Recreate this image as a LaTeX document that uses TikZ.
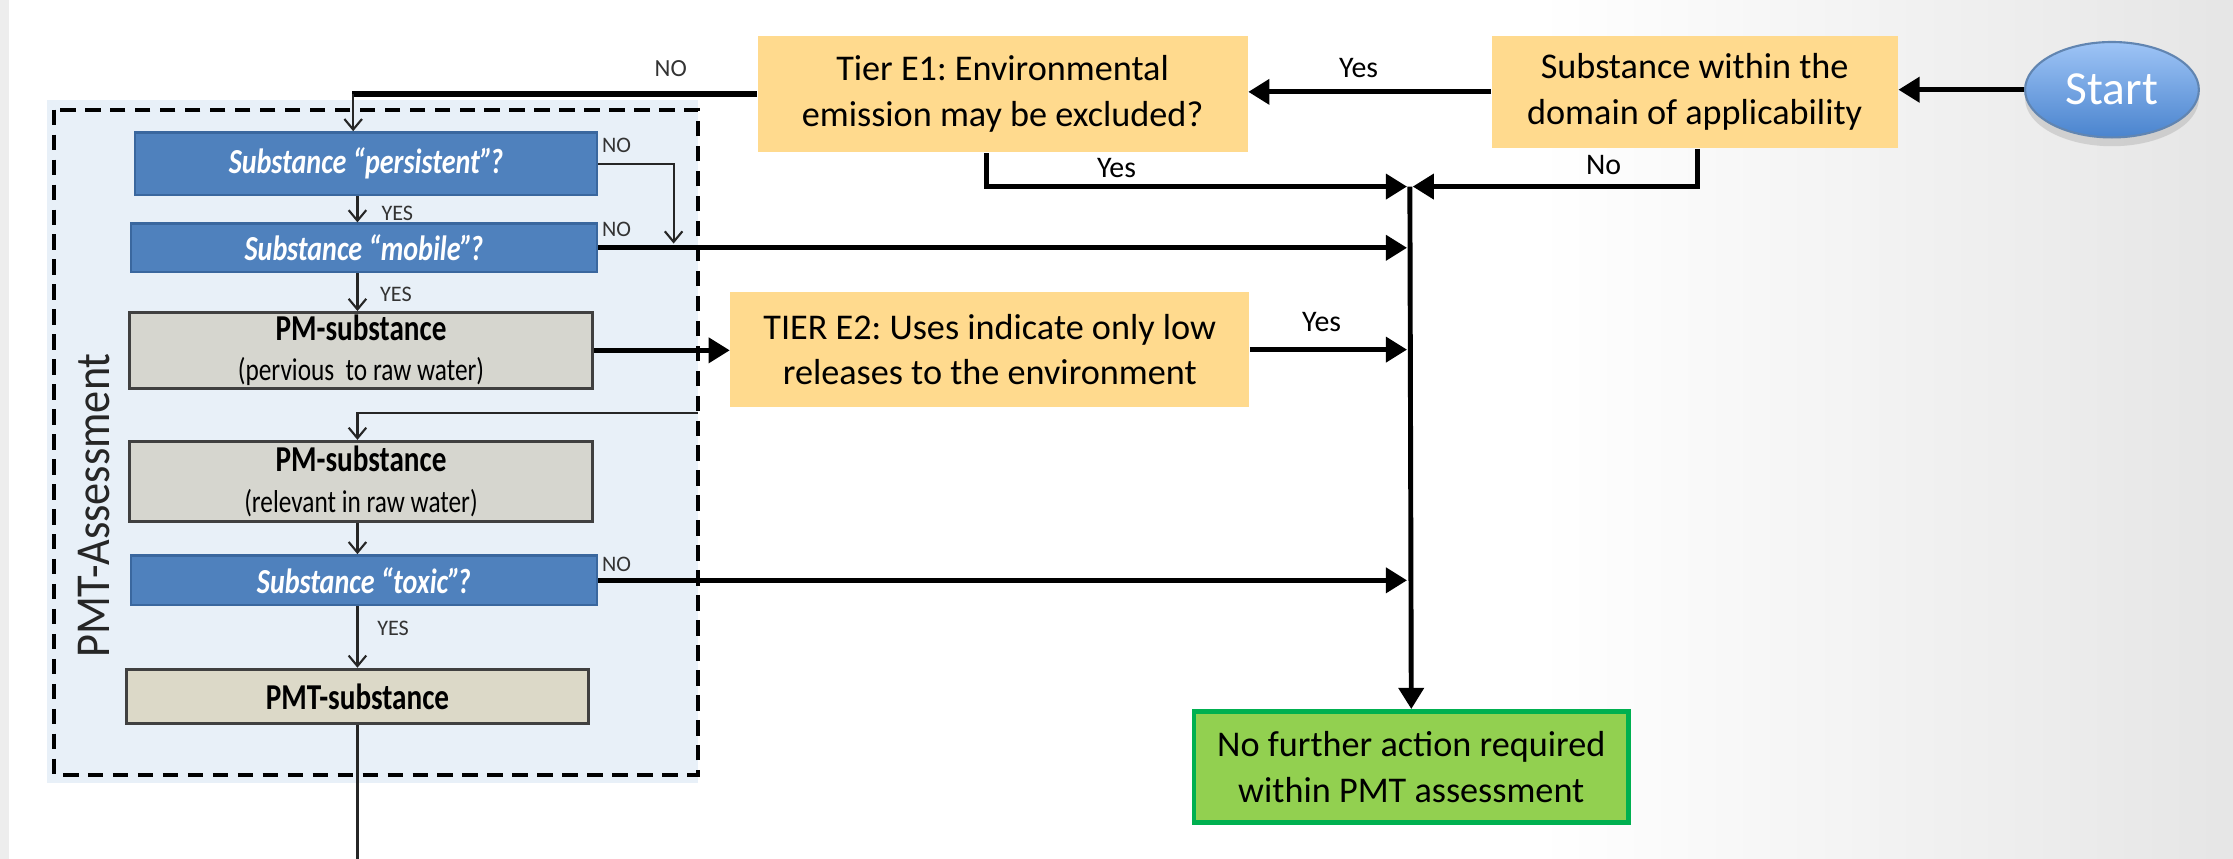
\documentclass[tikz,border=0pt]{standalone}
\usepackage{fontspec}
\setmainfont{Carlito}
\usetikzlibrary{arrows.meta,shapes.geometric,shadows}
\frenchspacing
\definecolor{boxyellow}{HTML}{FFDA8E}
\definecolor{boxgreen}{HTML}{92D050}
\definecolor{greenborder}{HTML}{00B050}
\definecolor{boxblue}{HTML}{4F81BD}
\definecolor{blueborder}{HTML}{3A679E}
\definecolor{boxgray}{HTML}{D6D6CF}
\definecolor{boxbeige}{HTML}{DCD9C8}
\definecolor{panelblue}{HTML}{E8F0F8}
\definecolor{labelgray}{HTML}{333333}
\definecolor{starttop}{HTML}{9EC4F6}
\definecolor{startbot}{HTML}{4A84CE}
\newcommand\pu{0.4052pt}
\newcommand\tall[1]{\scalebox{1}[1.25]{#1}}
\tikzset{
  ybox/.style={fill=boxyellow, inner sep=0pt, align=center,
    font=\fontsize{10.3}{13}\selectfont},
  bbox/.style={fill=boxblue, draw=blueborder, line width=0.7pt, inner sep=0pt,
    text=white, font=\fontsize{8}{9}\selectfont\bfseries\itshape},
  gbox/.style={fill=boxgray, draw=black!75, line width=0.9pt, inner sep=0pt,
    align=center, font=\fontsize{7.2}{10.5}\selectfont},
  thickarr/.style={line width=1.4pt, -{Triangle[length=6pt,width=7pt]}},
  heavyline/.style={line width=1.5pt, line cap=butt},
  thinarr/.style={line width=0.6pt, draw=black!85, -{Straight Barb[length=3pt,width=5pt]}},
  thinline/.style={line width=0.6pt, draw=black!85},
  lbl/.style={inner sep=0pt, font=\fontsize{8.5}{9}\selectfont},
  slbl/.style={inner sep=0pt, text=labelgray, font=\fontsize{6.3}{7}\selectfont},
}
\begin{document}
\begin{tikzpicture}[x=0.014241cm, y=-0.014241cm]
\useasboundingbox (0,0) rectangle (1568,603);
% background
\fill[white] (0,0) rectangle (1568,603);
\shade[left color=white, right color=black!10] (1080,0) rectangle (1568,603);
\fill[black!7] (0,0) rectangle (6,603);
% PMT panel
\fill[panelblue] (33,70) rectangle (490,550);
\draw[line width=1.1pt, dash pattern=on 4.4pt off 2.7pt] (38,77) rectangle (490,544);
\node[rotate=90, inner sep=0pt, text=black!85, font=\fontsize{12.6}{13}\selectfont] (pmtlabel) at (66,355) {\scalebox{1}[1.1]{PMT-Assessment}};

% panel boxes
\node[bbox, minimum width=324*\pu, minimum height=44*\pu] (persist) at (257,115) {\tall{Substance “persistent”\kern-0.8pt?}};
\node[bbox, minimum width=327*\pu, minimum height=34*\pu] (mobile) at (255.5,174) {\tall{Substance “mobile”\kern-0.8pt?}};
\node[gbox, minimum width=325*\pu, minimum height=53*\pu] (pm1) at (253.5,246) {\tall{\fontsize{8.3}{10}\selectfont\bfseries PM-substance}\\[1pt]\tall{(pervious\ \ to raw water)}};
\node[gbox, minimum width=325*\pu, minimum height=56*\pu] (pm2) at (253.5,338) {\tall{\fontsize{8.3}{10}\selectfont\bfseries PM-substance}\\[1pt]\tall{(relevant in raw water)}};
\node[bbox, minimum width=327*\pu, minimum height=35*\pu] (toxic) at (255.5,407.5) {\tall{Substance “toxic”\kern-0.8pt?}};
\node[gbox, fill=boxbeige, minimum width=324*\pu, minimum height=38*\pu, font=\fontsize{8.3}{10}\selectfont\bfseries] (pmt) at (251,489) {\tall{PMT-substance}};

% right boxes
\node[ybox, minimum width=344*\pu, minimum height=82*\pu] (e1) at (704,66) {Tier E1: Environmental\\emission may be excluded?};
\node[ybox, minimum width=285*\pu, minimum height=79*\pu] (sub) at (1190,64.5) {Substance within the\\domain of applicability};
\node[ellipse, minimum width=122*\pu, minimum height=67*\pu, inner sep=0pt,
  top color=starttop, bottom color=startbot, draw=blueborder!80, line width=0.6pt,
  drop shadow={opacity=0.25, shadow xshift=0pt, shadow yshift=-2.5pt},
  text=white, font=\fontsize{13.5}{14}\selectfont] (start) at (1483,63) {Start};
\node[ybox, minimum width=364*\pu, minimum height=81*\pu] (e2) at (695,245.5) {TIER E2: Uses indicate only low\\releases to the environment};
\node[fill=boxgreen, draw=greenborder, line width=1.3pt, inner sep=0pt, align=center,
  minimum width=305*\pu, minimum height=78*\pu, font=\fontsize{10.3}{13}\selectfont] (green) at (991,538.5) {No further action required\\within PMT assessment};

% coordinates
\coordinate (vtop) at (990,131);
\coordinate (tl) at (248,66);
\coordinate (ax) at (251,0);
\coordinate (pn) at (473,171);
\coordinate (rt) at (490,290);
\coordinate (bot) at (251,603);

% top connectors
\draw[thickarr] (start.west) -- (start.west -| sub.east);
\draw[thickarr] (sub.west) -- (sub.west -| e1.east);
\draw[heavyline] (e1.west) -- ([xshift=-0.3pt]tl);
\draw[thinarr] (tl) -- (persist.north -| tl);
\draw[thickarr] ([xshift=-11*\pu]e1.south) |- ([xshift=-2*\pu]vtop);
\draw[thickarr] ([xshift=2*\pu]sub.south) |- ([xshift=2*\pu]vtop);
\draw[thickarr] (vtop) -- (green.north);

% feeds into the vertical
\draw[thickarr] (mobile.east) -- ([xshift=-2*\pu]mobile.east -| vtop);
\draw[thickarr] (e2.east) -- ([xshift=-2*\pu]e2.east -| vtop);
\draw[thickarr] (toxic.east) -- ([xshift=-2*\pu]toxic.east -| vtop);
\draw[thickarr] (pm1.east) -- (pm1.east -| e2.west);

% panel connectors
\draw[thinarr] (persist.east) -| (pn);
\draw[thinarr] (persist.south -| ax) -- (mobile.north -| ax);
\draw[thinarr] (mobile.south -| ax) -- (pm1.north -| ax);
\draw[thinarr] (rt) -| (pm2.north -| ax);
\draw[thinarr] (pm2.south -| ax) -- (toxic.north -| ax);
\draw[thinarr] (toxic.south -| ax) -- (pmt.north -| ax);
\draw[thinline] (pmt.south -| ax) -- (bot);

% labels
\node[slbl, font=\fontsize{7}{8}\selectfont] (lno0) at (471,48) {NO};
\node[slbl] (lno1) at (433,102) {NO};
\node[slbl] (lno2) at (433,161) {NO};
\node[slbl] (lno3) at (433,396) {NO};
\node[slbl] (lyes1) at (279,150) {YES};
\node[slbl] (lyes2) at (278,207) {YES};
\node[slbl] (lyes3) at (276,441) {YES};
\node[lbl] (lyes4) at (954,48) {Yes};
\node[lbl] (lyes5) at (784,118) {Yes};
\node[lbl] (lno4) at (1126,116) {No};
\node[lbl] (lyes6) at (928,226) {Yes};
\end{tikzpicture}
\end{document}
